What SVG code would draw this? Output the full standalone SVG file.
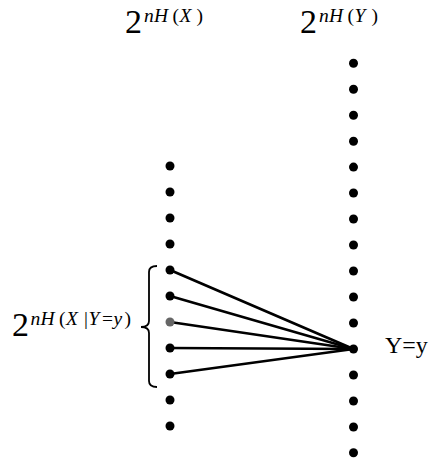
<svg xmlns="http://www.w3.org/2000/svg" width="439" height="462" viewBox="0 0 439 462">
<style>
.t{font-family:"Liberation Serif","Times New Roman",serif;fill:#000}
.big{font-size:34px}
.sup{font-size:19.5px}
.i{font-style:italic}
.dot{fill:#000}
.ln{stroke:#000;stroke-width:2.7;stroke-linecap:round;fill:none}
</style>
<rect width="439" height="462" fill="#fff"/>
<g id="label-hx">
<text class="t big" x="125" y="33">2</text>
<text class="t sup" y="22"><tspan class="i" x="144">n</tspan><tspan class="i" x="154">H</tspan><tspan x="172.5">(</tspan><tspan class="i" x="179.5">X</tspan><tspan x="196.5">)</tspan></text>
</g>
<g id="label-hy">
<text class="t big" x="300" y="33">2</text>
<text class="t sup" y="22"><tspan class="i" x="319">n</tspan><tspan class="i" x="329">H</tspan><tspan x="347.5">(</tspan><tspan class="i" x="354.5">Y</tspan><tspan x="371.5">)</tspan></text>
</g>
<g id="label-hxy">
<text class="t big" x="12" y="336">2</text>
<text class="t sup" y="325"><tspan class="i" x="30.5">n</tspan><tspan class="i" x="40.5">H</tspan><tspan x="59">(</tspan><tspan class="i" x="66">X</tspan><tspan x="84">|</tspan><tspan class="i" x="88.5">Y</tspan><tspan x="102">=</tspan><tspan class="i" x="113.5">y</tspan><tspan x="124.5">)</tspan></text>
</g>
<g id="label-yy">
<text class="t" font-size="24" x="385" y="353">Y=y</text>
</g>
<g id="brace">
<path d="M157,266 Q149,266 149,272 L149,321 Q149,327 141,327 Q149,327 149,333 L149,381 Q149,387 157,387" fill="none" stroke="#000" stroke-width="1.8"/>
</g>
<g id="connectors">
<line class="ln" x1="170" y1="270" x2="353.5" y2="349"/>
<line class="ln" x1="170" y1="296" x2="353.5" y2="349"/>
<line class="ln" x1="170" y1="322" x2="353.5" y2="349"/>
<line class="ln" x1="170" y1="348" x2="353.5" y2="349"/>
<line class="ln" x1="170" y1="374" x2="353.5" y2="349"/>
</g>
<g id="column-x">
<circle class="dot" cx="170" cy="166" r="4.5"/>
<circle class="dot" cx="170" cy="192" r="4.5"/>
<circle class="dot" cx="170" cy="218" r="4.5"/>
<circle class="dot" cx="170" cy="244" r="4.5"/>
<circle class="dot" cx="170" cy="270" r="4.5"/>
<circle class="dot" cx="170" cy="296" r="4.5"/>
<circle cx="170" cy="322" r="4.5" fill="#666"/>
<circle class="dot" cx="170" cy="348" r="4.5"/>
<circle class="dot" cx="170" cy="374" r="4.5"/>
<circle class="dot" cx="170" cy="400" r="4.5"/>
<circle class="dot" cx="170" cy="426" r="4.5"/>
</g>
<g id="column-y">
<circle class="dot" cx="353.5" cy="63.3" r="4.5"/>
<circle class="dot" cx="353.5" cy="89.3" r="4.5"/>
<circle class="dot" cx="353.5" cy="115.3" r="4.5"/>
<circle class="dot" cx="353.5" cy="141.2" r="4.5"/>
<circle class="dot" cx="353.5" cy="167.1" r="4.5"/>
<circle class="dot" cx="353.5" cy="193" r="4.5"/>
<circle class="dot" cx="353.5" cy="219" r="4.5"/>
<circle class="dot" cx="353.5" cy="245" r="4.5"/>
<circle class="dot" cx="353.5" cy="271" r="4.5"/>
<circle class="dot" cx="353.5" cy="297" r="4.5"/>
<circle class="dot" cx="353.5" cy="323" r="4.5"/>
<circle class="dot" cx="353.5" cy="349" r="4.5"/>
<circle class="dot" cx="353.5" cy="375" r="4.5"/>
<circle class="dot" cx="353.5" cy="401" r="4.5"/>
<circle class="dot" cx="353.5" cy="427" r="4.5"/>
<circle class="dot" cx="353.5" cy="452.7" r="4.5"/>
</g>
</svg>
